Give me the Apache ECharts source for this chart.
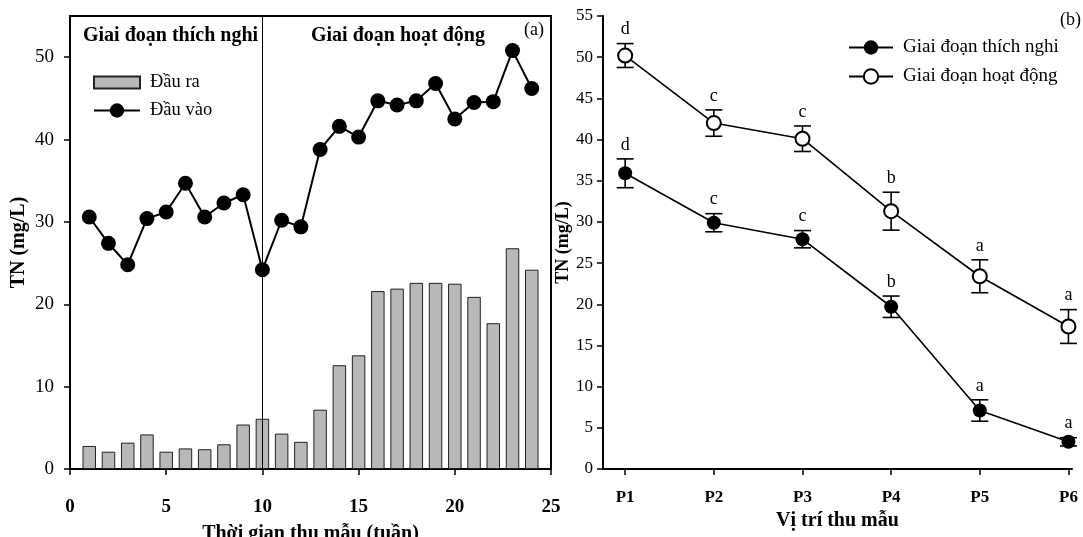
<!DOCTYPE html>
<html>
<head>
<meta charset="utf-8">
<script src="https://cdn.jsdelivr.net/npm/echarts@6/dist/echarts.min.js"></script>
<style>
  html, body { margin: 0; padding: 0; background: #fff; }
  #chart { width: 1083px; height: 537px; }
</style>
</head>
<body>
<div id="chart"></div>
<script>
// (a) TN theo thời gian thu mẫu
const weeks = [1, 2, 3, 4, 5, 6, 7, 8, 9, 10, 11, 12, 13, 14, 15, 16, 17, 18, 19, 20, 21, 22, 23, 24];
const dauRa = [2.8, 2.1, 3.2, 4.2, 2.1, 2.5, 2.4, 3.0, 5.4, 6.1, 4.3, 3.3, 7.2, 12.6, 13.8, 21.6, 21.9, 22.6, 22.6, 22.5, 20.9, 17.7, 26.8, 24.2];
const dauVao = [30.6, 27.4, 24.8, 30.4, 31.2, 34.7, 30.6, 32.3, 33.3, 24.2, 30.2, 29.4, 38.8, 41.6, 40.3, 44.7, 44.2, 44.7, 46.8, 42.5, 44.5, 44.6, 50.8, 46.2];

// (b) TN theo vị trí thu mẫu
const sites = ['P1', 'P2', 'P3', 'P4', 'P5', 'P6'];
const tnThichNghi = [35.9, 29.9, 27.9, 19.7, 7.1, 3.3];
const sdThichNghi = [1.75, 1.1, 1.05, 1.3, 1.3, 0.5];
const tnHoatDong = [50.2, 42.0, 40.1, 31.3, 23.4, 17.3];
const sdHoatDong = [1.45, 1.6, 1.55, 2.3, 2.0, 2.05];
const nhomThichNghi = ['d', 'c', 'c', 'b', 'a', 'a'];
const nhomHoatDong = ['d', 'c', 'c', 'b', 'a', 'a'];

const serif = '"Liberation Serif", "Times New Roman", serif';
const chart = echarts.init(document.getElementById('chart'));

// thanh sai số + chữ cái thống kê
const errorBars = (means, sds, letters) => ({
  type: 'custom',
  xAxisIndex: 1,
  yAxisIndex: 1,
  z: 1,
  silent: true,
  encode: { x: 0, y: [1, 2] },
  data: means.map((m, i) => [i + 1, m - sds[i], m + sds[i]]),
  renderItem: (params, api) => {
    const x = api.value(0);
    const lo = api.coord([x, api.value(1)]);
    const hi = api.coord([x, api.value(2)]);
    const w = 8.5;
    const st = { stroke: '#000', lineWidth: 1.6 };
    return {
      type: 'group',
      children: [
        { type: 'line', shape: { x1: lo[0], y1: lo[1], x2: hi[0], y2: hi[1] }, style: st },
        { type: 'line', shape: { x1: lo[0] - w, y1: lo[1], x2: lo[0] + w, y2: lo[1] }, style: st },
        { type: 'line', shape: { x1: hi[0] - w, y1: hi[1], x2: hi[0] + w, y2: hi[1] }, style: st },
        {
          type: 'text', x: hi[0], y: hi[1] - 5,
          style: { text: letters[params.dataIndex], font: '18px ' + serif, fill: '#000', align: 'center', verticalAlign: 'bottom' }
        }
      ]
    };
  }
});

const axisCommon = {
  axisLine: { lineStyle: { color: '#000', width: 2 } },
  axisTick: { length: 6, lineStyle: { color: '#000', width: 1.5 } },
  splitLine: { show: false }
};
const legendText = { fontFamily: serif, fontSize: 18.5, color: '#000', padding: [0, 0, 0, 5] };

chart.setOption({
  animation: false,
  grid: [
    { left: 70, top: 16, width: 481, height: 453, show: true, borderColor: '#000', borderWidth: 2, outerBoundsMode: 'none' },
    { left: 603, top: 16, width: 469, height: 453, outerBoundsMode: 'none' }
  ],
  xAxis: [
    {
      ...axisCommon,
      gridIndex: 0, type: 'value', min: 0, max: 25, interval: 5,
      name: 'Thời gian thu mẫu (tuần)', nameLocation: 'middle', nameGap: 55,
      nameTextStyle: { fontFamily: serif, fontSize: 20, fontWeight: 'bold', color: '#000' },
      axisLabel: { fontFamily: serif, fontSize: 19, fontWeight: 'bold', color: '#000', margin: 29 }
    },
    {
      ...axisCommon,
      gridIndex: 1, type: 'value', min: 0.75, max: 6.04,
      name: 'Vị trí thu mẫu', nameLocation: 'middle', nameGap: 37,
      nameTextStyle: { fontFamily: serif, fontSize: 20, fontWeight: 'bold', color: '#000' },
      axisTick: { ...axisCommon.axisTick, customValues: [1, 2, 3, 4, 5, 6] },
      axisLabel: {
        customValues: [1, 2, 3, 4, 5, 6],
        formatter: v => sites[Math.round(v) - 1],
        fontFamily: serif, fontSize: 17, fontWeight: 'bold', color: '#000', margin: 20
      }
    }
  ],
  yAxis: [
    {
      ...axisCommon,
      gridIndex: 0, type: 'value', min: 0, max: 55,
      name: 'TN (mg/L)', nameLocation: 'middle', nameGap: 41,
      nameTextStyle: { fontFamily: serif, fontSize: 20, fontWeight: 'bold', color: '#000' },
      axisTick: { ...axisCommon.axisTick, customValues: [0, 10, 20, 30, 40, 50] },
      axisLabel: { customValues: [0, 10, 20, 30, 40, 50], fontFamily: serif, fontSize: 19, color: '#000', margin: 16 }
    },
    {
      ...axisCommon,
      gridIndex: 1, type: 'value', min: 0, max: 55, interval: 5,
      name: 'TN (mg/L)', nameLocation: 'middle', nameGap: 28,
      nameTextStyle: { fontFamily: serif, fontSize: 18, fontWeight: 'bold', color: '#000' },
      axisLabel: { fontFamily: serif, fontSize: 17, color: '#000', margin: 10 }
    }
  ],
  legend: [
    {
      left: 93, top: 73, padding: 0, itemWidth: 46, itemHeight: 12,
      textStyle: legendText,
      data: [{ name: 'Đầu ra', icon: 'rect' }]
    },
    {
      left: 93, top: 101, padding: 0, itemWidth: 46, itemHeight: 18,
      textStyle: legendText,
      data: ['Đầu vào']
    },
    {
      orient: 'vertical', left: 848, top: 38, padding: 0, itemWidth: 44, itemHeight: 18, itemGap: 10,
      textStyle: { ...legendText, fontSize: 19 },
      data: ['Giai đoạn thích nghi', 'Giai đoạn hoạt động']
    }
  ],
  graphic: [
    { type: 'text', left: 83, top: 26, style: { text: 'Giai đoạn thích nghi', font: 'bold 20px ' + serif, fill: '#000' } },
    { type: 'text', left: 311, top: 26, style: { text: 'Giai đoạn hoạt động', font: 'bold 20px ' + serif, fill: '#000' } },
    { type: 'text', left: 524, top: 21, style: { text: '(a)', font: '18px ' + serif, fill: '#000' } },
    { type: 'text', left: 1060, top: 11, style: { text: '(b)', font: '18px ' + serif, fill: '#000' } }
  ],
  series: [
    {
      name: 'Đầu ra', type: 'bar', xAxisIndex: 0, yAxisIndex: 0, barWidth: 13.5,
      itemStyle: { color: '#b8b8b8', borderColor: '#222', borderWidth: 1 },
      data: weeks.map((w, i) => [w, dauRa[i]]),
      markLine: {
        silent: true, symbol: 'none', label: { show: false },
        lineStyle: { color: '#000', width: 1, type: 'solid' },
        data: [{ xAxis: 10 }]
      }
    },
    {
      name: 'Đầu vào', type: 'line', xAxisIndex: 0, yAxisIndex: 0, z: 3,
      symbol: 'circle', symbolSize: 15,
      lineStyle: { color: '#000', width: 2 },
      itemStyle: { color: '#000' },
      data: weeks.map((w, i) => [w, dauVao[i]])
    },
    errorBars(tnThichNghi, sdThichNghi, nhomThichNghi),
    errorBars(tnHoatDong, sdHoatDong, nhomHoatDong),
    {
      name: 'Giai đoạn thích nghi', type: 'line', xAxisIndex: 1, yAxisIndex: 1, z: 3,
      symbol: 'circle', symbolSize: 14,
      lineStyle: { color: '#000', width: 1.6 },
      itemStyle: { color: '#000' },
      data: tnThichNghi.map((v, i) => [i + 1, v])
    },
    {
      name: 'Giai đoạn hoạt động', type: 'line', xAxisIndex: 1, yAxisIndex: 1, z: 3,
      symbol: 'circle', symbolSize: 14,
      lineStyle: { color: '#000', width: 1.6 },
      itemStyle: { color: '#fff', borderColor: '#000', borderWidth: 2 },
      data: tnHoatDong.map((v, i) => [i + 1, v])
    }
  ]
});
</script>
</body>
</html>
